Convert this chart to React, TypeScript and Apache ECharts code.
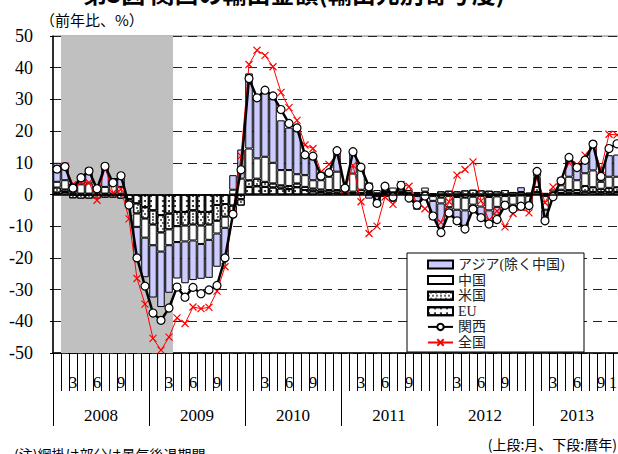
import React, { useEffect, useRef } from 'react';
import * as echarts from 'echarts';

// ---------- data ----------
const years = [2008, 2009, 2010, 2011, 2012, 2013];
const monthCount = 71; // Jan 2008 .. Nov 2013
const categories = years
  .flatMap((y) => Array.from({ length: 12 }, (_, m) => `${y}/${m + 1}`))
  .slice(0, monthCount);
const monthTickLabels = ['3', '6', '9'];
const recessionSpan = [1, 15]; // shaded: Feb 2008 – Mar 2009 (month boundaries)

const eu = [
  0.6, 0.8, 0.4, 0.3, 0.3, 0.3, 0.3, 0.3, 0.3, -1.5, -2.8, -4.0,
  -5.0, -6.5, -6.0, -5.5, -5.5, -5.0, -5.5, -5.5, -3.3, -3.0, -3.5, -1.5,
  2.4, 2.6, 2.4, 2.2, 1.9, 1.7, 2.3, 1.4, 1.0, 0.8, 0.6, 0.6,
  0.5, 0.4, 0.5, 0.3, 0.4, 0.4, 0.4, 0.5, 0.3, -0.5, 0.3, -0.5,
  -1.0, -0.5, -0.8, -1.0, -0.7, -0.5, -0.8, -0.6, -0.5, -0.4, -0.3, -0.4,
  0.8, -0.5, 0.3, 0.5, 0.6, 0.5, 0.9, 0.8, 0.7, 0.7, 0.8,
];
const usa = [
  1.6, 0.8, -1.2, -1.3, -1.3, -1.3, -1.0, -1.0, -1.3, -1.0, -3.2, -3.6,
  -4.5, -5.5, -5.0, -4.5, -4.3, -4.5, -4.3, -4.0, -5.0, -4.0, -2.5, -2.0,
  2.1, 2.4, 1.6, 1.3, 1.0, 1.0, 1.2, 1.0, 0.9, 0.8, 0.8, 0.8,
  0.5, 0.5, 1.0, 0.5, -0.5, 0.4, 0.3, 0.5, 0.3, 0.3, 0.6, 0.4,
  1.0, 1.2, 1.0, 1.3, 1.5, 1.3, 1.2, 1.0, 1.4, 0.8, 0.8, 0.6,
  1.6, 0.5, 0.6, 1.0, 0.8, 0.9, 1.8, 1.5, 1.1, 1.4, 1.5,
];
const china = [
  1.8, 2.9, 2.8, 2.9, 3.2, 2.1, 2.1, 3.2, 2.1, -0.8, -4.2, -6.0,
  -6.5, -6.0, -5.0, -5.0, -5.0, -5.0, -5.8, -4.8, -4.0, -3.5, 1.5, 5.0,
  10.0, 6.4, 7.9, 6.5, 4.8, 5.0, 2.9, 3.7, 2.6, 2.9, 4.2, 5.8,
  1.5, 5.7, 6.8, 3.0, 1.0, 2.7, 1.5, 1.9, 0.8, 0.5, 1.3, -1.5,
  -1.8, -3.5, -4.0, -4.0, -2.5, -3.3, -4.2, -3.3, -1.8, -2.8, -3.0, -2.4,
  3.2, -4.3, 0.7, 1.4, 4.2, 3.1, 4.0, 5.3, 2.2, 3.5, 3.3,
];
const asia = [
  6.0, 5.0, 0.0, 2.4, 5.0, 0.0, 7.4, 1.7, 4.2, -0.2, -10.0, -12.5,
  -16.5, -17.5, -15.0, -11.5, -13.2, -12.5, -11.0, -12.0, -10.5, -9.0, 4.6, 9.2,
  23.7, 19.4, 21.2, 20.5, 15.7, 13.4, 14.4, 6.3, 7.9, 2.7, 1.6, 7.0,
  0.5, 6.9, 1.0, -1.3, -2.3, -0.8, -2.3, 0.3, -1.8, -4.3, -1.5, -5.6,
  -7.9, -3.2, -4.5, -5.0, -2.5, -3.8, -4.8, -2.7, -1.6, -1.5, 1.5, -1.6,
  2.3, -4.3, -0.8, 1.6, 5.8, 4.2, 3.3, 8.0, 2.6, 6.8, 7.0,
];
const kansai = [
  8.0, 8.8, 2.0, 5.3, 7.4, 1.8, 8.9, 3.7, 5.9, -3.3, -20.0, -28.9,
  -37.4, -39.7, -35.8, -29.2, -32.4, -29.3, -31.3, -30.1, -28.7, -20.0, -6.2, 7.8,
  36.6, 30.5, 32.9, 31.1, 26.8, 22.4, 21.0, 12.5, 12.1, 5.8, 6.9, 13.8,
  2.0, 13.5, 8.6, 2.4, -2.8, 2.6, -0.8, 2.9, -1.1, -3.3, -0.5, -6.8,
  -12.0, -5.8, -8.3, -10.9, -4.6, -7.3, -9.3, -7.9, -3.4, -4.6, -3.7, -3.5,
  7.3, -8.3, -0.7, 4.3, 11.7, 8.5, 10.8, 15.9, 5.7, 14.5, 16.0,
];
const zenkoku = [
  8.2, 9.0, 3.2, 4.0, 3.8, -1.8, 8.7, 0.5, 1.6, -7.7, -26.5, -34.6,
  -45.4, -49.1, -45.0, -38.9, -40.7, -35.5, -36.0, -35.6, -30.5, -22.8, -5.9, 12.2,
  41.0, 45.5, 43.9, 40.3, 32.2, 27.4, 23.4, 15.6, 14.5, 7.1, 9.5, 12.9,
  1.4, 9.2, -2.3, -12.3, -10.0, -0.8, -3.1, 3.2, 2.6, -2.8, -4.5, -7.0,
  -8.8, -2.3, 6.1, 7.9, 10.3, -2.0, -8.1, -5.2, -10.2, -6.0, -4.1, -5.8,
  5.6, -2.6, 2.4, 4.3, 10.0, 9.5, 12.4, 15.6, 7.9, 19.0, 18.8,
];

// ---------- styles ----------
const serif = "'Liberation Serif', 'Noto Sans CJK JP', serif";
const cjk = "'Noto Sans CJK JP', 'Liberation Serif', sans-serif";

const barBase = {
  type: 'bar',
  stack: 'total',
  xAxisIndex: 0,
  yAxisIndex: 0,
  barCategoryGap: '6%',
  z: 2,
};

function yearLabel(_v: string, index: number) {
  const yi = Math.floor(index / 12);
  const start = yi * 12;
  const n = Math.min(12, monthCount - start);
  if (n % 2 === 0) {
    if (index === start + n / 2 - 1) return `{s|${years[yi]}}`;
  } else if (index === start + (n - 1) / 2) {
    return `{c|${years[yi]}}`;
  }
  return '';
}

function monthLabel(v: string, index: number) {
  const m = v.split('/')[1];
  if (index === monthCount - 1) return m;
  return monthTickLabels.includes(m) ? m : '';
}

const option: any = {
  animation: false,
  backgroundColor: '#fff',
  title: {
    text: '第3図 関西の輸出金額(輸出先別寄与度)',
    left: 83,
    top: -20,
    padding: 0,
    textStyle: { fontSize: 24, fontWeight: 'bold', fontFamily: cjk, color: '#000' },
  },
  grid: {
    left: 53,
    top: 36,
    width: 568,
    height: 317,
    show: true,
    borderColor: '#777',
    borderWidth: 1,
    backgroundColor: 'transparent',
  },
  legend: {
    orient: 'vertical',
    left: 427,
    top: 257,
    padding: 0,
    itemWidth: 25,
    itemHeight: 8,
    itemGap: 0.6,
    selectedMode: false,
    z: 6,
    textStyle: { fontSize: 14, fontFamily: serif, color: '#222', lineHeight: 15 },
    data: [
      { name: 'アジア(除く中国)', icon: 'rect' },
      { name: '中国', icon: 'rect' },
      { name: '米国', icon: 'rect' },
      { name: 'EU', icon: 'rect' },
      { name: '関西' },
      { name: '全国' },
    ],
  },
  xAxis: [
    {
      type: 'category',
      data: categories,
      position: 'bottom',
      axisLine: { show: true, onZero: false, lineStyle: { color: '#000', width: 1.5 } },
      axisTick: { show: true, interval: 0, length: 38, lineStyle: { color: '#000', width: 1 } },
      axisLabel: {
        interval: 0,
        formatter: monthLabel,
        color: '#000',
        fontSize: 17,
        fontFamily: serif,
        margin: 21,
      },
      splitLine: { show: false },
    },
    {
      type: 'category',
      data: categories,
      position: 'bottom',
      axisLine: { show: false, onZero: false },
      axisTick: {
        show: true,
        interval: (i: number) => i % 12 === 0,
        length: 73,
        lineStyle: { color: '#000', width: 1 },
      },
      axisLabel: {
        interval: 0,
        formatter: yearLabel,
        margin: 54,
        rich: {
          s: { padding: [0, 0, 0, 8], fontSize: 17, fontFamily: serif, color: '#000' },
          c: { fontSize: 17, fontFamily: serif, color: '#000' },
        },
      },
      splitLine: { show: false },
    },
    {
      type: 'value',
      min: 0,
      max: monthCount,
      show: false,
      position: 'bottom',
      axisLine: { onZero: false },
      splitLine: { show: false },
    },
  ],
  yAxis: {
    type: 'value',
    min: -50,
    max: 50,
    interval: 10,
    axisLine: { show: true, onZero: false, lineStyle: { color: '#000', width: 1.5 } },
    axisTick: { show: true, length: 3, lineStyle: { color: '#000' } },
    axisLabel: { color: '#000', fontSize: 18, fontFamily: serif, margin: 20 },
    splitLine: { show: true, lineStyle: { color: '#222', width: 1, type: [9, 6] } },
  },
  series: [
    {
      name: 'shade',
      type: 'line',
      xAxisIndex: 2,
      yAxisIndex: 0,
      data: [],
      z: 1,
      silent: true,
      markArea: {
        silent: true,
        itemStyle: { color: '#c0c0c0' },
        data: [[{ xAxis: recessionSpan[0] }, { xAxis: recessionSpan[1] }]],
      },
    },
    {
      name: 'zero',
      type: 'line',
      xAxisIndex: 2,
      yAxisIndex: 0,
      data: [],
      z: 1.5,
      silent: true,
      markLine: {
        silent: true,
        symbol: ['none', 'none'],
        label: { show: false },
        lineStyle: { color: '#000', width: 1.5, type: 'solid' },
        data: [{ yAxis: 0 }],
      },
    },
    {
      ...barBase,
      name: 'EU',
      data: eu,
      itemStyle: {
        color: '#fff',
        borderColor: '#000',
        borderWidth: 1,
        decal: {
          symbol: 'circle',
          symbolSize: 1,
          dashArrayX: [[1.6, 3.4]],
          dashArrayY: [1.6, 2.4],
          color: '#111',
        },
      },
    },
    {
      ...barBase,
      name: '米国',
      data: usa,
      itemStyle: {
        color: '#fff',
        borderColor: '#000',
        borderWidth: 1,
        decal: {
          symbol: 'rect',
          symbolSize: 1,
          dashArrayX: [[1.2, 1.3], [0, 1.25, 1.2, 0.05]],
          dashArrayY: [1.2, 0.9],
          color: '#666',
        },
      },
    },
    {
      ...barBase,
      name: '中国',
      data: china,
      itemStyle: { color: '#fff', borderColor: '#000', borderWidth: 1 },
    },
    {
      ...barBase,
      name: 'アジア(除く中国)',
      data: asia,
      itemStyle: { color: '#ccccff', borderColor: '#000', borderWidth: 1 },
    },
    {
      name: '全国',
      type: 'line',
      xAxisIndex: 0,
      yAxisIndex: 0,
      data: zenkoku,
      z: 3,
      symbol: 'path://M0 0L10 10M10 0L0 10',
      symbolSize: 7,
      showAllSymbol: true,
      lineStyle: { color: '#f00', width: 1 },
      itemStyle: { color: '#f00', borderColor: '#f00', borderWidth: 1.2 },
    },
    {
      name: '関西',
      type: 'line',
      xAxisIndex: 0,
      yAxisIndex: 0,
      data: kansai,
      z: 4,
      symbol: 'circle',
      symbolSize: 8,
      showAllSymbol: true,
      lineStyle: { color: '#000', width: 2.5 },
      itemStyle: { color: '#fff', borderColor: '#000', borderWidth: 1.2 },
    },
  ],
  graphic: [
    {
      type: 'rect',
      z: 5,
      shape: { x: 407, y: 253, width: 177, height: 99 },
      style: { fill: '#fff', stroke: '#000', lineWidth: 1 },
    },
    {
      type: 'text',
      x: 40,
      y: 19,
      style: {
        text: '（前年比、%）',
        font: `15px ${cjk}`,
        fill: '#000',
        verticalAlign: 'middle',
      },
    },
    {
      type: 'text',
      x: 617,
      y: 444,
      style: {
        text: '(上段:月、下段:暦年)',
        font: `14px ${cjk}`,
        fill: '#000',
        align: 'right',
        verticalAlign: 'middle',
      },
    },
    {
      type: 'text',
      x: 14,
      y: 447,
      style: {
        text: '(注)網掛け部分は景気後退期間',
        font: `14px ${cjk}`,
        fill: '#000',
        verticalAlign: 'top',
      },
    },
  ],
};

export default function App() {
  const ref = useRef<HTMLDivElement>(null);
  useEffect(() => {
    if (!ref.current) return;
    const chart = echarts.init(ref.current, null, { renderer: 'svg' });
    chart.setOption(option);
    return () => chart.dispose();
  }, []);
  return (
    <div
      style={{
        position: 'fixed',
        left: 0,
        top: 0,
        width: 618,
        height: 454,
        overflow: 'hidden',
        background: '#fff',
      }}
    >
      <div ref={ref} style={{ width: 640, height: 454 }} />
    </div>
  );
}
